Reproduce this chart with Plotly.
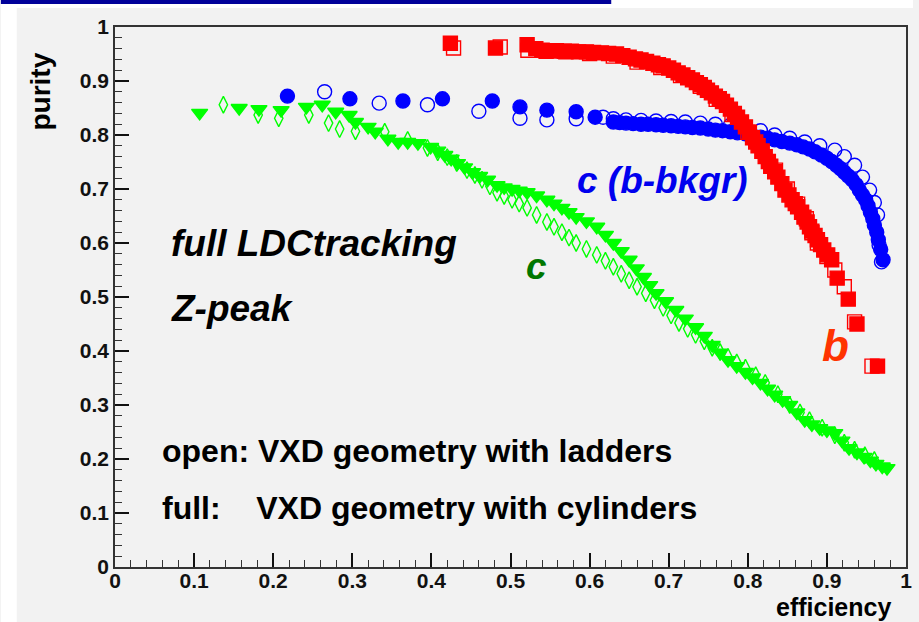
import plotly.graph_objects as go

# b-tagging: filled = VXD with cylinders, open = VXD with ladders
b_full_x = [0.424, 0.481, 0.521, 0.532, 0.540, 0.549, 0.558, 0.568, 0.577, 0.586, 0.596, 0.605,
            0.615, 0.624, 0.634, 0.642, 0.650, 0.658, 0.665, 0.672, 0.680, 0.687, 0.693, 0.700,
            0.706, 0.712, 0.718, 0.724, 0.730, 0.735, 0.740, 0.745, 0.749, 0.754, 0.759, 0.764,
            0.768, 0.773, 0.778, 0.783, 0.787, 0.792, 0.797, 0.802, 0.806, 0.810, 0.813, 0.818,
            0.822, 0.826, 0.829, 0.834, 0.838, 0.843, 0.847, 0.852, 0.856, 0.860, 0.863, 0.868,
            0.871, 0.875, 0.878, 0.881, 0.885, 0.888, 0.892, 0.896, 0.901, 0.906, 0.913, 0.927,
            0.938, 0.964]
b_full_y = [0.970, 0.961, 0.967, 0.960, 0.957, 0.956, 0.956, 0.955, 0.955, 0.954, 0.954, 0.953,
            0.952, 0.951, 0.950, 0.947, 0.944, 0.941, 0.939, 0.936, 0.933, 0.930, 0.928, 0.924,
            0.920, 0.915, 0.911, 0.906, 0.902, 0.897, 0.893, 0.888, 0.883, 0.878, 0.872, 0.867,
            0.862, 0.855, 0.848, 0.840, 0.833, 0.824, 0.815, 0.805, 0.795, 0.787, 0.780, 0.770,
            0.760, 0.751, 0.742, 0.732, 0.722, 0.710, 0.698, 0.689, 0.680, 0.673, 0.667, 0.657,
            0.648, 0.639, 0.630, 0.622, 0.614, 0.606, 0.597, 0.587, 0.578, 0.569, 0.535, 0.496,
            0.450, 0.372]
b_open_x = [0.428, 0.487, 0.522, 0.545, 0.570, 0.600, 0.630, 0.660, 0.690, 0.715, 0.740, 0.760,
            0.780, 0.800, 0.818, 0.835, 0.850, 0.863, 0.874, 0.881, 0.888, 0.900, 0.910, 0.922,
            0.935, 0.957]
b_open_y = [0.961, 0.963, 0.957, 0.955, 0.954, 0.951, 0.946, 0.935, 0.925, 0.910, 0.890, 0.866,
            0.838, 0.805, 0.770, 0.735, 0.700, 0.672, 0.645, 0.619, 0.600, 0.575, 0.550, 0.519,
            0.454, 0.372]

# c-tagging with b background
cb_full_x = [0.218, 0.297, 0.364, 0.414, 0.477, 0.512, 0.546, 0.583, 0.607, 0.630, 0.638, 0.646,
             0.655, 0.665, 0.674, 0.684, 0.693, 0.703, 0.712, 0.721, 0.730, 0.740, 0.750, 0.759,
             0.768, 0.778, 0.787, 0.797, 0.806, 0.816, 0.825, 0.834, 0.843, 0.853, 0.862, 0.870,
             0.878, 0.885, 0.893, 0.900, 0.906, 0.912, 0.917, 0.922, 0.927, 0.932, 0.937, 0.941,
             0.945, 0.949, 0.952, 0.955, 0.958, 0.960, 0.963, 0.965, 0.968, 0.971]
cb_full_y = [0.872, 0.867, 0.863, 0.867, 0.863, 0.852, 0.846, 0.843, 0.833, 0.824, 0.823, 0.822,
             0.821, 0.820, 0.820, 0.819, 0.818, 0.817, 0.816, 0.815, 0.814, 0.813, 0.811, 0.809,
             0.808, 0.806, 0.804, 0.802, 0.799, 0.796, 0.794, 0.791, 0.788, 0.785, 0.782, 0.778,
             0.774, 0.769, 0.763, 0.757, 0.751, 0.744, 0.738, 0.731, 0.724, 0.717, 0.708, 0.698,
             0.689, 0.680, 0.669, 0.657, 0.645, 0.633, 0.620, 0.606, 0.588, 0.569]
cb_open_x = [0.265, 0.334, 0.395, 0.460, 0.512, 0.546, 0.583, 0.617, 0.630, 0.646, 0.665, 0.684,
             0.703, 0.721, 0.740, 0.759, 0.778, 0.797, 0.816, 0.834, 0.853, 0.872, 0.891, 0.910,
             0.922, 0.935, 0.945, 0.954, 0.960, 0.964, 0.966, 0.969]
cb_open_y = [0.880, 0.859, 0.856, 0.844, 0.831, 0.828, 0.830, 0.833, 0.830, 0.828, 0.827, 0.826,
             0.825, 0.824, 0.822, 0.820, 0.818, 0.815, 0.808, 0.800, 0.794, 0.787, 0.780, 0.772,
             0.760, 0.744, 0.722, 0.698, 0.675, 0.652, 0.596, 0.565]

# c-tagging
c_full_x = [0.107, 0.157, 0.182, 0.210, 0.242, 0.262, 0.279, 0.296, 0.304, 0.320, 0.329, 0.345,
            0.358, 0.370, 0.383, 0.399, 0.408, 0.417, 0.425, 0.433, 0.442, 0.452, 0.461, 0.471,
            0.483, 0.492, 0.502, 0.511, 0.521, 0.533, 0.546, 0.555, 0.565, 0.574, 0.583, 0.596,
            0.609, 0.620, 0.630, 0.640, 0.650, 0.659, 0.668, 0.676, 0.684, 0.696, 0.709, 0.721,
            0.734, 0.745, 0.755, 0.765, 0.775, 0.786, 0.797, 0.806, 0.816, 0.825, 0.834, 0.844,
            0.853, 0.862, 0.872, 0.881, 0.891, 0.900, 0.910, 0.919, 0.928, 0.938, 0.947, 0.955,
            0.962, 0.970, 0.976]
c_full_y = [0.841, 0.850, 0.848, 0.846, 0.852, 0.856, 0.843, 0.837, 0.824, 0.815, 0.806, 0.793,
            0.787, 0.787, 0.785, 0.778, 0.771, 0.763, 0.756, 0.748, 0.740, 0.731, 0.724, 0.717,
            0.707, 0.703, 0.700, 0.697, 0.694, 0.688, 0.680, 0.673, 0.665, 0.657, 0.648, 0.640,
            0.630, 0.615, 0.600, 0.585, 0.569, 0.553, 0.537, 0.522, 0.507, 0.492, 0.476, 0.460,
            0.444, 0.428, 0.411, 0.397, 0.383, 0.372, 0.361, 0.351, 0.341, 0.330, 0.319, 0.309,
            0.300, 0.286, 0.272, 0.264, 0.257, 0.253, 0.248, 0.234, 0.220, 0.212, 0.204, 0.197,
            0.191, 0.186, 0.183]
c_open_x = [0.137, 0.181, 0.207, 0.245, 0.270, 0.284, 0.304, 0.341, 0.370, 0.395, 0.408, 0.420,
            0.432, 0.445, 0.455, 0.464, 0.474, 0.483, 0.492, 0.502, 0.511, 0.521, 0.533, 0.546,
            0.555, 0.565, 0.574, 0.583, 0.596, 0.609, 0.620, 0.630, 0.640, 0.650, 0.660, 0.671,
            0.682, 0.693, 0.703, 0.713, 0.724, 0.734, 0.745, 0.755, 0.765, 0.775, 0.786, 0.797,
            0.810, 0.822, 0.838, 0.853, 0.866, 0.878, 0.894, 0.910, 0.922, 0.935, 0.948, 0.960]
c_open_y = [0.856, 0.837, 0.831, 0.837, 0.822, 0.811, 0.807, 0.806, 0.791, 0.776, 0.768, 0.759,
            0.748, 0.735, 0.726, 0.717, 0.705, 0.693, 0.687, 0.680, 0.673, 0.665, 0.652, 0.639,
            0.630, 0.620, 0.610, 0.600, 0.589, 0.578, 0.567, 0.556, 0.543, 0.531, 0.519, 0.507,
            0.494, 0.480, 0.466, 0.452, 0.441, 0.430, 0.418, 0.406, 0.398, 0.389, 0.379, 0.369,
            0.355, 0.341, 0.320, 0.300, 0.286, 0.272, 0.258, 0.244, 0.230, 0.217, 0.207, 0.198]

x_ticks = [0, 0.1, 0.2, 0.3, 0.4, 0.5, 0.6, 0.7, 0.8, 0.9, 1]
y_ticks = [0, 0.1, 0.2, 0.3, 0.4, 0.5, 0.6, 0.7, 0.8, 0.9, 1]
tick_text = ["0", "0.1", "0.2", "0.3", "0.4", "0.5", "0.6", "0.7", "0.8", "0.9", "1"]

RED, BLUE, GREEN = "#ff0000", "#0000ff", "#00ff00"
FONT = "Liberation Sans, Arial, sans-serif"

fig = go.Figure()

def add(x, y, color, symbol, size, lw=1.4):
    fig.add_trace(go.Scatter(
        x=x, y=y, mode="markers", showlegend=False, hoverinfo="skip",
        marker=dict(color=color, symbol=symbol, size=size,
                    line=dict(color=color, width=lw)),
    ))

add(c_open_x, c_open_y, GREEN, "diamond-tall-open", 12)
add(c_full_x, c_full_y, GREEN, "triangle-down", 14)
add(cb_open_x, cb_open_y, BLUE, "circle-open", 14)
add(cb_full_x, cb_full_y, BLUE, "circle", 14)
add(b_open_x, b_open_y, RED, "square-open", 14)
add(b_full_x, b_full_y, RED, "square", 14)

tick_font = dict(family=FONT, size=21, color="#111", weight="bold")
axis_common = dict(
    tickmode="array", ticks="inside", ticklen=14, tickwidth=1.5, tickcolor="#111",
    showline=True, linecolor="#333", linewidth=1.5, mirror=True,
    showgrid=False, zeroline=False,
    minor=dict(ticks="inside", ticklen=7, tickwidth=1.2, tickcolor="#333", dtick=0.02,
               showgrid=False),
)
fig.update_xaxes(range=[0, 1], tickvals=x_ticks, ticktext=tick_text,
                 ticklabelstandoff=-6, **axis_common)
fig.update_yaxes(range=[0, 1], tickvals=y_ticks, ticktext=tick_text, **axis_common)
fig.update_xaxes(tickfont=tick_font)
fig.update_yaxes(tickfont=tick_font)

# plot area runs from (115, 27) to (912, 567) in page pixels
L, T, W, H = 115, 27, 797, 540
def px(x):
    return (x - L) / W
def py(y):
    return (T + H - y) / H

shapes = [
    dict(type="rect", xref="paper", yref="paper", x0=px(0), x1=px(16), y0=py(622), y1=py(0),
         fillcolor="white", line_width=0, layer="above"),
    dict(type="rect", xref="paper", yref="paper", x0=px(0), x1=px(919), y0=py(8), y1=py(0),
         fillcolor="white", line_width=0, layer="above"),
    dict(type="rect", xref="paper", yref="paper", x0=px(0), x1=px(615), y0=py(4), y1=py(0),
         fillcolor="#000099", line_width=0, layer="above"),
]

def note(text, x, y, size, color="black", italic=False, xanchor="left", angle=0):
    return dict(text=text, xref="paper", yref="paper", x=px(x), y=py(y),
                xanchor=xanchor, yanchor="middle", showarrow=False, textangle=angle,
                borderpad=0,
                font=dict(family=FONT, size=size, color=color, weight="bold",
                          style="italic" if italic else "normal"))

annotations = [
    note("purity", 40, 92, 28, angle=-90, xanchor="center"),
    note("efficiency", 898, 607, 25, xanchor="right"),
    note("full LDCtracking", 170, 243, 37, italic=True),
    note("Z-peak", 170, 309, 37, italic=True),
    note("open: VXD geometry with ladders", 161, 451, 32),
    note("full:    VXD geometry with cylinders", 161, 508, 32),
    note("c (b-bkgr)", 579, 180, 37, color="#0000ee", italic=True),
    note("c", 528, 266, 37, color="#007700", italic=True),
    note("b", 826, 345, 44, color="#ff3300", italic=True),
]

fig.update_layout(
    width=919, height=622,
    margin=dict(l=L, r=919 - L - W, t=T, b=622 - T - H),
    paper_bgcolor="#f2f2f2", plot_bgcolor="#f2f2f2",
    shapes=shapes, annotations=annotations,
)

fig.write_html("out.html")
